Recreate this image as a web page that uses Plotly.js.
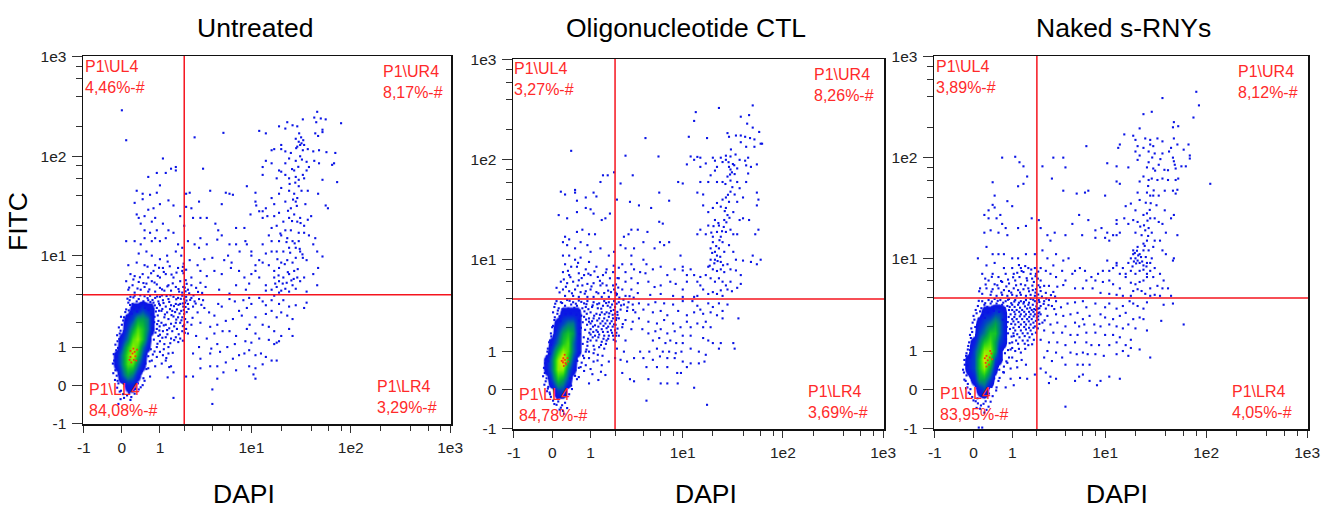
<!DOCTYPE html>
<html><head><meta charset="utf-8">
<script src="https://cdn.plot.ly/plotly-3.0.1.min.js"></script>
<style>html,body{margin:0;padding:0;background:#fff}#c{width:1333px;height:521px}</style>
</head><body><div id="c"></div>
<script>
const panelNames=["Untreated","Oligonucleotide CTL","Naked s-RNYs"];
const quadrantLabels=["P1\\UL4","P1\\UR4","P1\\LL4","P1\\LR4"];
const untreatedPercents=["4,46%-#","8,17%-#","84,08%-#","3,29%-#"];
const oligoPercents=["3,27%-#","8,26%-#","84,78%-#","3,69%-#"];
const nakedPercents=["3,89%-#","8,12%-#","83,95%-#","4,05%-#"];
const gateDapi=2, gateFitc=4;
const majorTicks=[-1,0,1,10,100,1000];
const majorLabels=["-1","0","1","1e1","1e2","1e3"];
const minorTicks=[2,4,6,8,20,40,60,80,200,400,600,800];
const densityDapi=[-.25,-.125,0,.125,.25,.375,.5,.625,.75,.875,1,1.125];
const densityFitc=[-.25,0,.25,.5,.75,1,1.3,1.7,2.2,2.8,3.6];
const untreatedDensity=[
[0,0,0,0,0,0,0,0,0,0,0,0],[0,0,0,1,1,0,0,0,0,0,0,0],[0,0,2,4,3,1,0,0,0,0,0,0],[0,1,3,6,6,3,1,0,0,0,0,0],
[0,1,3,6,8,5,2,0,0,0,0,0],[0,0,2,5,7,6,3,1,0,0,0,0],[0,0,1,3,6,7,5,2,0,0,0,0],[0,0,0,2,4,6,5,3,1,0,0,0],
[0,0,0,1,2,4,4,3,1,0,0,0],[0,0,0,0,1,1,2,1,1,0,0,0],[0,0,0,0,0,0,0,0,0,0,0,0]];
const oligoDensity=[
[0,0,0,0,0,0,0,0,0,0,0,0],[0,0,0,2,2,0,0,0,0,0,0,0],[0,0,2,5,4,2,0,0,0,0,0,0],[0,1,3,7,7,3,1,0,0,0,0,0],
[0,1,3,7,9,5,2,0,0,0,0,0],[0,0,2,5,7,6,3,1,0,0,0,0],[0,0,1,3,5,6,3,1,0,0,0,0],[0,0,0,2,4,5,4,1,0,0,0,0],
[0,0,0,1,2,3,3,1,0,0,0,0],[0,0,0,0,1,1,1,1,0,0,0,0],[0,0,0,0,0,0,0,0,0,0,0,0]];
const nakedDensity=[
[0,0,0,0,0,0,0,0,0,0,0,0],[0,0,0,1,2,0,0,0,0,0,0,0],[0,0,1,4,4,2,0,0,0,0,0,0],[0,1,2,5,7,4,1,0,0,0,0,0],
[0,1,2,5,8,6,2,1,0,0,0,0],[0,0,2,4,7,7,4,1,0,0,0,0],[0,0,1,3,5,6,4,2,1,0,0,0],[0,0,0,2,3,5,5,3,1,0,0,0],
[0,0,0,1,2,3,4,3,1,0,0,0],[0,0,0,0,1,1,2,2,1,0,0,0],[0,0,0,0,0,0,0,0,0,0,0,0]];
const untreatedHot=[[.2,.7],[.25,.8],[.3,.85],[.22,.55],[.28,.62],[.32,.72],[.18,.62],[.36,.92],[.27,.95],[.2,.88],[.34,.6]];
const oligoHot=[[.25,.68],[.3,.75],[.33,.62],[.27,.58],[.36,.8],[.29,.9],[.22,.72],[.31,.66],[.38,.7],[.26,.8]];
const nakedHot=[[.28,.65],[.33,.72],[.38,.8],[.3,.85],[.42,.92],[.26,.78],[.36,.6],[.44,.75],[.3,.55],[.39,1]];
const untreatedFringe=[[.13,3.63],[.27,3.74],[.44,3.93],[.52,3.41],[.63,3.68],[.77,3.52],[.91,3.83],[.19,3.12],[.33,3.05],[.47,3.27],[.58,3.17],[.71,3.36],[.84,3.09],[.97,3.22],[.08,2.62],[.16,2.73],[.28,2.87],[.41,2.96],[.56,2.91],[.66,2.78],[.79,2.84],[.87,2.66],[.97,2.71],[.12,2.38],[.23,2.52],[.36,2.66],[.74,2.47],[.83,2.33],[.93,2.41],[.03,2.12],[.11,2.17],[.82,2.03],[.91,1.93],[.99,1.82],[.77,1.73],[.86,1.54],[.98,1.63],[.81,1.26],[.92,1.11],[.72,.93],[.83,.86],[.65,.72],[.78,.77],[.57,.52],[.69,.58],[.48,.33],[.6,.38],[.52,.16],[.38,.04],[.45,-.05],[-.02,2.33],[-.07,1.77],[-.03,1.62],[-.11,1.43],[-.06,1.28],[-.15,1.08],[-.09,.97],[-.19,.78],[-.12,.71],[-.21,.52],[-.14,.47],[-.2,.28],[-.12,.22],[-.16,.12],[-.08,.04],[-.11,-.06],[-.02,-.13],[.03,-.21],[.12,-.24],[.17,-.18],[.26,-.14],[.31,-.09],[-.03,-.33],
[1.07,3.93],[1.23,3.87],[1.38,3.94],[1.62,3.58],[1.83,3.62],[1.12,3.27],[1.33,3.36],[1.52,3.03],[1.72,3.13],[1.93,3.24],[2.12,3.47],[1.08,2.83],[1.36,2.82],[1.57,2.62],[1.77,2.53],[1.98,2.76],[2.13,2.62],[1.17,2.47],[1.42,2.43],[1.62,2.17],[1.86,2.13],[2.17,2.03],[1.13,1.87],[1.33,1.73],[1.53,1.82],[1.73,1.47],[1.93,1.83],[2.03,1.53],[1.08,1.33],[1.26,1.47],[1.53,1.24],[1.71,1.17],[1.93,1.22],[1.13,.93],[1.37,1.13],[1.22,.67],[1.47,.82],[1.06,.52],[1.33,.43],[1.27,.18],
[.17,4.73],[.37,4.63],[.52,5.27],[.68,4.53],[.83,5.33],[1.07,4.53],[1.26,4.87],[1.47,5.23],[1.72,4.57],[2.03,4.73],[2.08,5.63],[1.96,6.63],[.27,5.73],[.43,6.03],[.73,6.63],[.93,6.23],[1.13,6.83],[1.42,6.43],[1.63,6.73],[1.97,8.3],[1.93,7.7],[.63,7.73],[.97,7.53],[1.27,8.7],
[18.3,9.2],[21.7,8.2],[24.6,10.7],[27.3,13.3],[22.6,13.7],[19.6,16.7],[25.7,22.3],[28.7,31.7],[23.4,28.3],[30.7,11.7],[17.4,5.2],[22.7,5.3],[25.3,5.6],[20.7,5.2],[18.8,6.3],[23.3,6.8],[26.7,5.8],[32.7,10.3],[29.3,7.3],[31.3,21.3],[26.3,36.7],[24.3,52.7],[27.7,54.3],[29.7,78.3],[32.3,92.7],[25.7,74.3],[28.3,120.7],[31.7,155],[30.3,170],[33.3,145],
[2.27,4.13],[2.53,3.93],[2.83,4.27],[3.13,4.17],[2.33,3.53],[2.67,3.23],[3.07,3.13],[2.07,4.33],[2.13,5.17],[2.23,2.83],[2.47,2.27],[2.07,2.97]];
const oligoFringe=[[.07,3.57],[.23,3.63],[.41,3.83],[.57,3.57],[.72,3.73],[.87,3.53],[.13,3.03],[.24,3.13],[.38,3.17],[.53,3.23],[.67,3.03],[.81,2.97],[.93,3.13],[.06,2.57],[.17,2.63],[.31,2.77],[.44,2.83],[.59,2.73],[.72,2.67],[.86,2.43],[.09,2.27],[.19,2.33],[.66,2.37],[.76,2.27],[.89,2.13],[.02,2.07],[.07,1.83],[.71,1.97],[.83,1.87],[.96,1.73],[.68,1.67],[.79,1.53],[.92,1.47],[.76,1.27],[.87,1.07],[.68,.97],[.77,.87],[.61,.72],[.73,.67],[.56,.47],[.65,.53],[.43,.27],[.55,.33],[.37,.06],[.47,.02],[.31,-.13],[-.02,1.57],[-.07,1.33],[-.03,1.23],[-.11,1],[-.06,.93],[-.15,.76],[-.09,.71],[-.19,.53],[-.13,.47],[-.21,.32],[-.13,.27],[-.18,.12],[-.09,.07],[-.12,-.03],[-.03,-.16],[-.06,-.06],[.05,-.33],[.14,-.27],[.17,-.47],[.23,-.36],[.28,-.58],[.12,-.2],[.35,-.43],
[1.07,3.43],[1.23,3.53],[1.38,3.17],[1.58,3.63],[1.77,3.27],[1.93,3.07],[2.08,3.57],[1.12,2.67],[1.33,2.73],[1.52,2.77],[1.72,2.83],[1.88,2.73],[2.12,2.93],[1.05,2.33],[1.23,2.37],[1.43,2.33],[1.63,2.37],[1.83,2.33],[2.03,2.13],[1.08,2.03],[1.27,2.03],[1.47,2.07],[1.67,2.03],[1.88,2.03],[2.13,1.93],[1.09,1.77],[1.25,1.77],[1.45,1.77],[1.65,1.77],[1.85,1.73],[2.07,1.73],[1.07,1.53],[1.27,1.53],[1.47,1.47],[1.67,1.47],[1.93,1.43],[2.03,1.37],[1.13,1.07],[1.37,1.23],[1.57,1.27],[1.24,.73],[1.43,.87],[1.06,.37],[1.37,.43],[1.27,.23],
[.17,4.67],[.32,5.33],[.47,4.57],[.62,5.47],[.82,4.53],[1.03,5.37],[1.27,4.57],[1.43,5.77],[1.67,4.87],[2.03,4.63],[2.05,5.63],[2.13,6.53],[.27,6.33],[.43,6.67],[.73,6.53],[.93,7.23],[1.13,7.63],[1.33,6.13],[1.57,7.43],[1.93,8.7],[.37,7.73],[.63,9.3],
[18.6,8.7],[20.7,9.2],[22.3,9.7],[23.7,10.7],[25.3,8.8],[19.7,11.7],[21.6,13.7],[23.3,15.7],[24.7,19.3],[22.7,23.3],[20.3,21.7],[19.3,18.7],[25.7,21.3],[27.3,23.7],[29.3,26.3],[26.3,30.7],[28.3,44.7],[31.3,53.3],[26.7,57.3],[29.7,71.3],[32.7,88.3],[28.7,94.7],[30.3,127],[33.7,113],[31.7,90.7],
[2.23,4.13],[2.47,3.93],[2.87,4.27],[3.17,4.13],[2.33,3.43],[2.73,3.27],[3.13,3.07],[2.07,4.37],[2.17,5.23],[2.13,2.73],[2.43,2.17],[2.07,2.53]];
const nakedFringe=[[.12,3.73],[.27,3.53],[.43,3.67],[.58,3.73],[.73,3.57],[.87,3.83],[.97,3.53],[.18,3.13],[.32,3.23],[.47,3.07],[.62,3.17],[.77,3.13],[.92,3.23],[.07,2.77],[.21,2.63],[.33,2.83],[.48,2.93],[.62,2.87],[.78,2.77],[.89,2.53],[.02,2.37],[.12,2.43],[.26,2.47],[.72,2.37],[.86,2.23],[.97,2.13],[.04,1.97],[.09,2.07],[.83,1.97],[.93,1.87],[.87,1.67],[.98,1.53],[.81,1.43],[.92,1.27],[.87,1.03],[.78,.93],[.68,.73],[.82,.69],[.62,.47],[.73,.41],[.49,.26],[.63,.27],[.42,.06],[.36,-.09],[.28,-.27],[.54,-.02],[-.03,1.73],[-.06,1.47],[-.04,1.33],[-.12,1.17],[-.08,1.03],[-.16,.93],[-.1,.79],[-.21,.73],[-.14,.57],[-.24,.47],[-.16,.33],[-.21,.23],[-.13,.13],[-.17,.03],[-.07,.01],[-.11,-.07],[-.03,-.17],[.05,-.27],[.09,-.2],[.17,-.37],[.23,-.33],[.3,-.48],[.07,-.43],
[1.07,3.67],[1.23,3.57],[1.42,3.63],[1.63,3.57],[1.82,3.83],[1.97,3.27],[2.13,3.63],[1.08,3.23],[1.27,3.17],[1.46,3.27],[1.68,3.17],[1.87,3.07],[2.13,3.13],[1.07,2.87],[1.24,2.87],[1.43,2.87],[1.63,2.87],[1.83,2.87],[2.07,2.77],[1.07,2.53],[1.26,2.57],[1.44,2.57],[1.64,2.53],[1.84,2.57],[2.07,2.37],[1.04,2.27],[1.21,2.23],[1.43,2.23],[1.62,2.27],[1.83,2.2],[2.13,2.13],[1.04,1.93],[1.23,1.97],[1.43,1.97],[1.63,1.93],[1.83,1.93],[1.04,1.67],[1.17,1.63],[1.37,1.67],[1.57,1.67],[1.77,1.63],[1.13,1.37],[1.37,1.37],[1.57,1.37],[1.77,1.23],[1.23,1.07],[1.47,1.07],[1.17,.53],[1.33,.73],[1.27,.27],
[.13,4.67],[.28,5.47],[.42,4.63],[.57,5.37],[.68,4.53],[.82,5.23],[.97,4.53],[1.13,5.37],[1.27,4.53],[1.47,5.37],[1.63,4.67],[1.78,5.33],[1.93,4.53],[2.08,5.37],[2.05,6.27],[.27,6.27],[.43,6.53],[.67,5.93],[.87,6.13],[1.03,6.47],[1.17,7.17],[1.33,7.47],[1.53,6.33],[1.77,6.27],[2.07,7.37],[1.23,8.57],[1.47,8.37],[1.73,7.73],[1.93,6.63],
[18.7,8.3],[19.3,9.3],[20.3,8.9],[21.3,10.7],[19.7,11.3],[20.7,11.9],[22.7,10.3],[23.3,9.3],[25.3,10.3],[25.7,8.3],[24.7,13.3],[26.7,16.7],[22.3,20.7],[24.3,21.3],[26.3,23.7],[27.7,30.3],[25.3,35.7],[28.3,35.3],[30.3,47.3],[26.7,52.3],[32.3,33.7],[31.3,74.3],[29.3,100.3],[35.3,96.7],[38.7,75.7],
[2.27,4.13],[2.53,3.93],[2.83,4.27],[3.13,4.13],[2.37,3.47],[2.67,3.37],[3.07,3.07],[2.07,4.33],[2.17,5.13],[2.13,2.83],[2.43,2.33],[2.07,2.57]];
const untreatedEvents=[[0,290],[.1,145],[1.1,95],[2.6,155],[5.2,172],[3.2,75],[1.6,78],[1.6,72],[.65,62],[.9,68],[1.2,68],[1.4,75],[46,280],[33,235],[23,220],[50,240],[56,235],[43,245],[80,215],[45,220],[19,200],[22,190],[26,205],[29,200],[52,175],[52,185],[44,170],[47,160],[12,180],[14,170],[28,150],[30,140],[31,130],[32,135],[34,130],[29,125],[20,130],[16,115],[17,118],[20,118],[22,112],[25,108],[33,115],[37,118],[42,112],[48,115],[57,110],[70,108],[68,85],[65,82],[48,85],[43,90],[36,88],[31,100],[28,90],[24,95],[22,85],[20,70],[19,72],[16,85],[14,90],[13,78],[13,65],[18,60],[22,65],[24,60],[27,72],[28,62],[30,58],[33,65],[36,72],[38,78],[34,60],[30,50],[27,42],[24,45],[20,48],[19,42],[22,35],[25,30],[28,35],[29,38],[32,45],[35,33],[37,45],[47,42],[52,58],[56,32],[59,30],[73,55],[16,38],[17,33],[14,30],[12,28],[11,35],[13,24],[14.5,25],[17,25],[19,27],[21,22],[24,24],[27,26],[29,22],[31,24],[34,20],[37,23],[40,25],[34,17],[38,16],[44,15],[30,17],[25,18],[22,18],[20,16],[18,20],[16,19],[15,16],[19,14],[23,15],[26,14],[28,12],[24,12],[21,11],[18,11],[16,11],[14,10.5],[13,13],[16,14],[30,14],[31,11],[33,9.5],[36,9],[42,13],[46,11],[52,9.8],[28,9.5],[26,8.5],[23,9],[20,8.5],[19,7.5],[17,7],[15,8],[13,8.5],[12,9],[11,7],[12,6],[14,5],[17,6],[19,5.5],[21,6],[24,6.5],[27,7],[29,6],[31,5.5],[34,6],[42,6.5],[47,7.5],[46,5],[14,4.4],[16,4.5],[18,4.8],[20,4.4],[22,4.6],[24,4.3],[19,4.2],[26,5],[28,4.6],[36,4.3],
[2.1,42],[2.3,43],[2.9,35],[3.8,45],[2.4,30],[2.1,31],[2,20],[2.5,24],[3,24],[3.5,24],[4.3,21],[4.6,18],[5.5,43],[6,42],[6.5,41],[5,33],[7,19],[8.5,19],[9,50],[11,43],[9.8,26],[11.2,32],[13,28],[4.5,14.5],[5,16],[6,13],[7,13],[3,15],[3.5,13],[2.2,14],[2.6,13],[2.9,12],[8.7,14],[9,13],[10,11],[10,10],[7.6,11],[5.8,10],[6.3,8.5],[5.3,9],[4,9.5],[3.3,9.2],[2.8,8],[2.3,9],[2.1,7.2],[2.4,6],[3,7],[3.5,6.2],[4.2,7],[5,6.5],[6.2,7.5],[7.5,7],[8.5,6],[10,6.5],[11,8],[7,5],[8.8,4.5],[3,5.3],[2.4,5],[2.2,4.5],[2.7,4.7],[3.4,4.8],[4.7,4.5],[6,4.1],[9.5,5.2],
[.35,45],[.5,42],[.7,41],[.9,43],[1,51],[.3,34],[.5,37],[.65,29],[.8,30],[1,33],[1.3,36],[1.5,32],[1.8,25],[.35,26],[.4,24],[.55,25],[.75,22],[.85,24],[1.1,21],[1.3,18],[.45,21],[.55,18],[.7,17],[.9,18],[.1,14],[.3,14],[.45,13],[.55,15],[.75,14],[.85,15],[1,14],[1.2,15],[1.5,17],[1.7,13],[1.9,12],[1.85,10],[1.6,11],[.4,10.5],[.6,11],[.75,10],[1,9.2],[1.25,10],[.15,8],[.35,8.5],[.55,8],[.85,8],[1.1,7.5],[1.35,7.8],[1.7,7.5],[1.9,7],[.2,6.5],[.3,6.2],[.5,6.5],[.65,6],[.8,7],[1,6],[1.2,6.5],[1.5,6],[1.8,5.5],[.1,5.5],[.25,5],[.4,5.4],[.6,5.2],[.75,5.5],[.9,5.1],[1,4.7],[1.3,5],[1.6,4.8],[1.95,4.8],[.15,4.5],[.45,4.5],[.55,4.8],[.65,4.3],[.85,4.3],[1.15,4.4],[1.4,4.4],[1.75,4.3],[1.9,4.2],[.3,4.2],
[2.1,3.8],[2.4,3.7],[2.6,3.4],[2.9,3.6],[3.2,3.5],[2.2,3.2],[2.5,3],[2.8,2.6],[3.3,2.9],[3.7,2.6],[4.2,2.4],[4.6,3.2],[5,3],[6,3.6],[6.8,3.4],[7.5,2.7],[8.3,3.5],[9.5,3.7],[9,2.9],[10,3.2],[12,3.7],[13,3.4],[14,3.1],[16,3.5],[17,3.9],[19,3.2],[21,3.5],[24,3],[28,3.1],[36,3.3],[34,2.9],[14,2.5],[16,2.7],[18,2.3],[20,2.6],[23,2.4],[26,2.2],[11,2.3],[8,2.4],[6.5,2.2],[5.5,2.1],[4.5,1.9],[3.8,1.8],[3,2],[2.4,1.9],[2.2,1.5],[2.7,1.4],[3.5,1.3],[4.2,1.5],[5.1,1.6],[6,1.6],[7,1.4],[9,1.7],[9.6,1.9],[11,1.5],[13,1.9],[15,1.8],[17,1.6],[20,1.4],[24,1.7],[26,1.4],[19,1.2],[17,1.1],[18,1.15],[15,1.25],[12,1.3],[10,1.15],[8.7,1.2],[6.8,1.1],[5.7,1],[4.5,1.1],[3.9,.95],[2.9,1],[2.5,.8],[3,.65],[3.8,.8],[4.8,.85],[5.5,.55],[6.5,.65],[7.5,.75],[8.5,.8],[9.5,.9],[11,.75],[12.5,.8],[14,.7],[16,.6],[18,.6],[13,.5],[11,.4],[9.5,.45],[7,.35],[5.2,.3],[4.5,.45],[3.8,.45],[3,.4],[2.5,.2],[4.5,.15],[10.5,.25],[11,.15],[4,-.1],[4,-.45],[1.5,-.3],[1.5,.3],[2.1,.2],
[1,3.8],[1.1,3.5],[1.3,3.6],[1.5,3.8],[1.7,3.7],[1.9,3.9],[2,3.6],[2.05,3.3],[1.95,3],[1.8,3.2],[1.6,3.2],[1.4,3.1],[1.2,3],[1,3.1],[1.05,2.7],[1.25,2.6],[1.45,2.7],[1.65,2.8],[1.85,2.7],[2,2.5],[2.05,2.2],[1.9,2.3],[1.7,2.3],[1.5,2.35],[1.3,2.2],[1.15,2.3],[1.05,2],[1.2,1.9],[1.4,1.95],[1.6,2],[1.8,2],[2,1.9],[2.1,1.7],[1.9,1.6],[1.65,1.7],[1.45,1.6],[1.25,1.65],[1.1,1.6],[1,1.45],[1.2,1.35],[1.4,1.3],[1.6,1.35],[1.8,1.3],[1,1.2],[1.15,1.1],[1.3,1],[.9,1],[1,.85],[1.1,.75],[.9,.7],[.75,.6],[.85,.45],[.65,.4],[.7,.2],[.55,.1],[.5,0],[.4,-.1],[1.2,.6],[1.4,.45],[1.3,.8],
[.2,3.8],[.3,3.9],[.4,3.6],[.55,3.85],[.7,3.9],[.85,3.7],[.95,3.4],[.15,3.3],[.25,3.2],[.35,3.4],[.9,2.9],[.8,3.3],[.1,2.8],[.05,2.3],[0,1.9],[-.05,1.5],[-.1,1.2],[-.13,.9],[-.18,.6],[-.15,.35],[-.1,.1],[-.05,-.15],[.05,-.3],[.2,-.35],[.3,-.2],[-.08,-.45],[.22,-.28],[.95,2.1],[.9,1.7],[.95,1.4],[.18,3.5],[.65,3.5]];
const oligoEvents=[[50,350],[23,330],[13.5,300],[13,245],[38,270],[46,280],[44,230],[50,210],[58,190],[28,185],[29,170],[34,175],[38,175],[42,170],[47,165],[52,160],[60,145],[62,145],[52,135],[43,135],[38,150],[17.5,165],[11.5,170],[4.2,165],[2.6,110],[5.7,108],[12,108],[14,107],[15,105],[13,100],[17,92],[11,90],[15,85],[20,105],[21,98],[24,105],[27,110],[30,108],[27,100],[25,95],[22,85],[29,85],[30,80],[31,75],[33,72],[35,82],[37,100],[42,98],[45,105],[55,90],[48,85],[43,88],[45,73],[21,78],[19,70],[18,60],[22,60],[25,60],[15,60],[9,60],[10,58],[28,68],[30,62],[35,60],[37,52],[43,60],[30,48],[27,42],[25,40],[22,37],[20,33],[16,45],[14,47],[16,35],[18,30],[24,34],[27,33],[29,38],[33,45],[35,38],[40,42],[55,47],[57,40],[55,35],[37,25],[32,30],[28,28],[26,25],[23,22],[21,25],[18,22],[15,20],[14,18],[17,18],[20,17],[22,19],[24,17],[27,19],[30,20],[32,18],[35,18],[40,26],[46,25],[53,18],[57,20],[25,15],[23,13],[20,15],[19,13],[21,12],[21,10],[19,10],[22,11],[24,9.5],[26,12],[29,14],[32,12],[34,10],[40,9.8],[50,11],[60,10],[55,9],[48,9.5],[18,8.5],[20,8],[22,7.7],[24,8],[26,7.5],[28,9],[30,8],[34,7.8],[17,7],[19,6.5],[21,6],[23,6.5],[25,6],[27,5.5],[30,6],[38,7],[38,5.7],[35,5.2],[31,4.8],[28,5],[24,4.9],[22,4.5],[20,4.7],[18,4.5],[25,4.3],[13,4.2],[14,4.3],[16,5],[12,8],[10,7.8],[13,7],[15,6.7],[11,6],[15,5.5],[14,6],
[2.3,58],[3.1,70],[2.1,40],[2.9,38],[3.6,35],[5.8,47],[4.8,33],[7.3,39],[5.8,24],[6.3,23],[4.4,19],[3.5,20],[3,20],[2.8,18],[2.5,17],[2.3,14],[2.6,13],[3,11],[3.2,13],[4,15],[5.2,13],[5.9,15],[6.5,14],[7.3,15],[9.5,11],[4,10],[4.3,9],[3,9],[2.4,9],[2.2,8.3],[2.6,7.5],[3.2,8],[3.7,7.5],[4.2,7.3],[5,8],[6,8.5],[7,7],[8.3,8],[10,8.5],[11,7],[2.2,6.5],[2.6,6],[3,6.5],[3.5,5.8],[4.5,6],[5.2,5.3],[6,5.5],[7.5,6],[8.5,5.7],[10,5],[2.4,5],[3,5],[3.5,4.6],[4.7,4.4],[6,4.5],[8,4.3],[10,4.2],[2.1,4.5],[2.6,4.3],
[.45,123],[.55,47],[.3,45],[.55,50],[.6,39],[.85,42],[1.1,47],[1.2,43],[1.35,60],[1.65,70],[1.95,75],[1.45,70],[.2,48],[.15,28],[.35,26],[.6,30],[.85,33],[1,32],[1.1,29],[1.4,25],[1.55,26],[1.75,29],[.3,17],[.4,16],[.6,19],[.75,20],[.95,18],[1.15,18],[.25,15],[.35,14],[.55,13],[.7,15],[.9,14],[1,12],[1.35,13],[1.7,11],[1.95,12],[.25,11],[.4,11],[.55,10],[.7,10.5],[.95,9.5],[.3,9],[.45,8.5],[.6,8.5],[.85,8],[1.2,8.5],[1.6,8],[1.9,7.5],[.25,7.5],[.4,7],[.65,7.3],[.8,7],[1,7],[1.25,6.7],[1.45,7],[1.75,6.5],[.2,6],[.35,5.8],[.5,6],[.65,6.2],[.75,5.5],[.9,5.7],[1.1,5.8],[1.35,5.5],[1.6,5.5],[1.9,5.5],[.1,5.2],[.25,5],[.4,4.8],[.55,5],[.7,4.7],[.85,4.8],[1,5],[1.2,4.7],[1.5,4.6],[1.8,4.7],[1.95,5],[.3,4.3],[.5,4.3],[.65,4.2],[.9,4.2],[1.1,4.2],[1.4,4.2],[1.7,4.2],
[2.2,3.7],[2.5,3.5],[2.8,3.7],[3.1,3.5],[3.6,3.6],[4.5,3.5],[5.3,3.7],[6.5,3.6],[8,3.5],[10,3.8],[12.5,3.8],[14,3.4],[15,3.1],[18,3.6],[20,3.3],[23,3.6],[25,3],[28,3.5],[2.3,3.1],[2.7,3],[3.3,2.9],[4,3.1],[5,2.9],[6,3],[7,2.7],[9,3],[11,2.7],[13,2.9],[16,2.8],[19,2.9],[22,2.7],[25,2.5],[36,2.5],[2.2,2.5],[2.6,2.4],[3.1,2.3],[3.6,2.5],[4.5,2.3],[5.5,2.2],[6.5,2.4],[8,2.2],[9.5,2],[11,2.3],[12,2],[14,2.2],[16,2],[17,2.3],[19,2],[2.4,2],[3,1.9],[3.9,1.9],[4.5,1.7],[5.3,1.8],[6,1.9],[7,1.7],[8.3,1.8],[10,1.6],[12,1.6],[16,1.5],[18,1.4],[20,1.3],[24,1.3],[32,1.3],[33,1.1],[23,1.1],[2.2,1.6],[2.6,1.4],[5,1.4],[5.8,1.5],[6.7,1.3],[7.5,1.4],[8.6,1.3],[10,1.3],[12,1.1],[14.5,1],[17,.9],[2.1,1.1],[2.5,1],[3.7,1],[4.6,1],[5.5,1.1],[6.3,1],[7.3,1],[8.5,.95],[9.7,1],[3.2,.8],[4,.8],[5,.75],[5.9,.85],[7,.8],[8.3,.8],[10,.7],[12,.65],[14.5,.65],[16.5,.7],[2,.8],[2.3,.75],[2.7,.7],[4.3,.55],[5.5,.55],[7,.55],[8.8,.4],[9.6,.4],[11,.55],[2.4,.4],[2.9,.25],[3.2,.2],[4.5,.25],[6,.15],[7,.15],[8.9,.15],[13,.05],[4.3,-.25],[17.5,-.35],
[.9,3.8],[1.1,3.7],[1.3,3.6],[1.5,3.8],[1.7,3.7],[1.95,3.8],[1.05,3.3],[1.25,3.2],[1.45,3.4],[1.65,3.4],[1.85,3.5],[2,3.3],[1,2.9],[1.2,2.8],[1.4,2.9],[1.6,2.9],[1.8,3],[2,2.8],[.95,2.5],[1.1,2.5],[1.3,2.5],[1.5,2.5],[1.7,2.6],[1.9,2.5],[2.05,2.4],[1,2.2],[1.15,2.1],[1.35,2.2],[1.55,2.2],[1.75,2.2],[1.95,2.15],[1,1.9],[1.2,1.85],[1.4,1.9],[1.6,1.95],[1.8,1.85],[2,1.85],[2.05,1.6],[1,1.65],[1.15,1.6],[1.3,1.65],[1.5,1.6],[1.7,1.6],[1.9,1.6],[1,1.4],[1.2,1.4],[1.4,1.35],[1.6,1.4],[.9,1.2],[1.1,1.2],[1.3,1.15],[1.5,1.1],[.95,1],[1.1,.95],[1.25,.9],[.95,.8],[1.1,.7],[.85,.6],[1,.5],[.8,.45],[.65,.3],[.95,.15],[1.4,.6],[1.7,.7],[1.55,.35],
[.1,3.8],[.2,3.7],[.35,3.9],[.5,3.7],[.65,3.85],[.8,3.6],[.05,3.3],[.15,3.2],[.3,3.4],[.45,3.5],[.6,3.4],[.75,3.2],[.85,3.3],[.02,2.9],[.12,2.8],[.88,2.8],[.8,2.6],[.95,2.3],[.05,2.4],[0,2],[-.03,1.7],[-.05,1.4],[-.1,1.1],[-.12,.85],[-.16,.65],[-.17,.4],[-.15,.2],[-.1,.03],[-.05,-.1],[.02,-.25],[.1,-.35],[.2,-.42],[.25,-.5],[.3,-.3],[.4,-.1],[.45,.1],[.6,.25],[.7,.55],[.8,.8],[.85,1],[.9,1.35]];
const nakedEvents=[[80,450],[85,330],[37,390],[29,285],[24,270],[75,250],[48,225],[53,205],[47,200],[22,195],[15.5,170],[19,165],[20,150],[25,155],[28,150],[33,155],[48,155],[37,145],[30,130],[28,135],[24,125],[21,130],[14,135],[13.5,125],[20,115],[22,105],[27,115],[31,110],[37,110],[43,115],[45,125],[52,135],[67,135],[60,120],[69,105],[69,98],[47,100],[48,92],[49,85],[50,78],[42,75],[37,62],[42,60],[50,60],[53,62],[63,82],[17,80],[21,95],[27,90],[26,80],[30,78],[34,85],[24,65],[22,58],[27,60],[29,62],[33,60],[39,47],[47,47],[50,44],[52,48],[57,82],[110,55],[10.5,88],[13,82],[13,58],[14,55],[6.5,130],[3,100],[3.8,100],[4,80],[2.3,82],[2.9,62],[3.8,47],[.7,100],[1.1,102],[1.25,90],[1.4,82],[1.55,65],[1.4,55],[1.2,52],[.45,57],
[21,45],[26,45],[28,42],[30,42],[34,42],[39,30],[22,38],[20,30],[18,35],[16,33],[15.5,25],[13,22],[17,22],[19,24],[21,23],[24,27],[26,28],[28,25],[31,25],[34,23],[37,22],[45,25],[48,27],[40,18],[52,17],[14,18],[12,17],[10.5,18],[20,18],[23,17],[25,19],[27,20],[29,18],[31,15],[35,15],[24,14],[26,15],[21,13],[19,12],[22,11],[24,12],[27,12],[30,13],[37,12],[40,11],[48,10],[47,9.5],[19,11],[18,10],[20,10],[21,9.5],[22,9],[24,8.5],[26,9],[28,9],[29,10],[31,8],[17,9],[15,8],[13,9],[11,7.5],[14,7],[16,7],[18,7.5],[20,7],[22,7.5],[24,7.7],[26,7],[28,7.5],[30,6.5],[35,7],[38,6],[16,6.5],[18,5.7],[20,5.5],[22,5.8],[24,6],[26,6.5],[28,5],[33,5.3],[37,5],[42,5],[14,5],[12,5.5],[19,4.7],[21,4.9],[23,4.7],[25,4.4],[28,4.2],[31,4.3],[35,4.2],[45,4.2],[18,4.2],[15,4.2],
[2.1,24],[2.2,20],[2.6,17],[3.1,18],[2.8,15],[4,17],[4.7,22],[5.2,44],[6.3,45],[6.8,47],[5.5,27],[6.8,24],[5.9,17],[8,19],[8,16],[9.2,20],[10,16],[11,15],[13,17],[13,24],[10,42],[3.2,11],[3.8,9.5],[2.3,12],[2.6,10],[3,8.5],[3.7,7.5],[4.3,10],[5,7.5],[5.6,8],[6.3,7.5],[7.3,6.5],[8.5,7],[9.5,7.5],[10.5,9.5],[12,8],[13,8.5],[2.2,8],[2.5,7.5],[2.8,7],[3.2,6.5],[4,6],[4.7,7],[6.5,6],[8,6],[9.5,5.8],[11,6],[2.2,6],[2.4,5.3],[2.7,5.3],[3.3,5.2],[3.8,5.4],[5,5],[6,5],[7.5,5],[9,4.5],[2.2,4.7],[2.5,4.5],[3,4.6],[11,4.4],[13,4.3],
[.5,42],[.45,34],[.5,32],[.65,27],[.85,37],[1,33],[.35,30],[.25,27],[.35,25],[.55,25],[.7,22],[.8,20],[.4,19],[.6,18],[.85,17],[1.2,20],[1.5,21],[1.75,25],[.25,18],[.1,10],[.3,13],[.45,11],[.6,11],[.75,11],[1,10],[1.2,10],[1.5,11],[1.9,11],[.3,8.5],[.5,9],[.75,8],[1,8],[1.3,8],[1.6,8],[1.9,8],[.2,7],[.45,7],[.6,6.5],[.8,7],[1.05,7],[1.25,6.5],[1.4,7.3],[1.7,7],[1.95,7],[.35,6],[.5,5.5],[.7,5.8],[.9,5.6],[1.1,6],[1.3,5.5],[1.55,6],[1.85,5.8],[.15,5],[.3,5],[.45,4.9],[.6,5],[.75,4.8],[.9,4.7],[1.05,5],[1.2,4.8],[1.4,4.9],[1.6,5],[1.8,4.8],[1.95,4.9],[.2,4.4],[.4,4.3],[.55,4.2],[.7,4.3],[.85,4.2],[1,4.3],[1.15,4.2],[1.3,4.3],[1.5,4.2],[1.7,4.3],[1.9,4.2],
[2.1,3.8],[2.4,3.7],[2.7,3.8],[3.2,3.7],[2.2,3.3],[2.5,3.1],[2.9,3.3],[3.6,3.2],[4.2,3.5],[5,3.6],[6,3.7],[6.5,3.2],[8,3.5],[10,3.2],[11,3.5],[13,3.1],[15,3.3],[17.5,3.7],[19,3.5],[21,3.3],[24,3.1],[26,3.6],[38,3.4],[47,3.5],[60,2.1],[2.2,2.7],[2.6,2.6],[3.2,2.7],[3.8,2.6],[4.5,2.7],[5.3,2.8],[6,2.4],[7,2.6],[9,2.7],[10,2.5],[12,2.4],[14,2.6],[16,2.8],[19,2.4],[22,2.5],[24,2.4],[36,2.3],[2.3,2.2],[2.8,2.1],[3.3,2.2],[4,2],[5,2.2],[5.5,2],[6.2,2.1],[7.8,2.1],[9,2],[11,2.1],[13,2],[15,1.9],[17,2.1],[20,1.9],[26,1.8],[2.4,1.8],[3,1.7],[3.7,1.7],[4.5,1.6],[5.3,1.6],[6.5,1.7],[8,1.7],[10,1.6],[12,1.6],[14,1.5],[18,1.4],[2.2,1.4],[2.7,1.3],[3.3,1.3],[4,1.2],[5,1.3],[6.5,1.3],[7.3,1.2],[8.7,1.2],[11,1.2],[13,1.3],[16,1.2],[18,1.1],[22,1.05],[2.6,1],[3.2,.95],[3.7,.8],[4.5,.95],[5.2,.9],[6,.95],[6.7,.9],[8,.9],[9.7,.85],[13,.9],[15,1],[17,.85],[2.4,.8],[2.9,.7],[4,.6],[5.3,.6],[6,.6],[7,.6],[28,.8],[2.2,.5],[2.5,.4],[2.8,.3],[3.2,.25],[5.5,.3],[6,.35],[7,.2],[9,.2],[11,.3],[14,.25],[8.3,.1],[5,.2],[4,-.4],[2.7,.15],
[.9,3.9],[1.1,3.8],[1.3,3.7],[1.5,3.8],[1.7,3.9],[1.9,3.7],[2,3.5],[1,3.4],[1.2,3.4],[1.4,3.5],[1.6,3.4],[1.8,3.4],[2.05,3.1],[1,3],[1.15,3],[1.35,3],[1.55,3.1],[1.75,3],[1.95,3],[1.1,2.7],[1.3,2.7],[1.5,2.7],[1.7,2.7],[1.9,2.7],[2,2.5],[1.15,2.4],[1.35,2.4],[1.55,2.4],[1.75,2.4],[1.95,2.3],[1.1,2.1],[1.3,2.1],[1.5,2.1],[1.7,2.1],[1.9,2],[2.05,1.9],[1.1,1.8],[1.3,1.8],[1.5,1.85],[1.7,1.8],[1.95,1.7],[1.05,1.55],[1.25,1.5],[1.45,1.55],[1.65,1.5],[1.85,1.4],[1,1.3],[1.2,1.25],[1.45,1.25],[1.6,1.2],[.95,1.05],[1.1,1],[1.3,.95],[1,.8],[1.15,.7],[.85,.65],[.95,.5],[.75,.4],[.6,.2],[.8,.05],[.95,.25],[1.05,.1],[1.5,.6],[1.55,.25],[1.9,.35],
[.2,3.7],[.35,3.8],[.5,3.9],[.65,3.8],[.8,3.7],[.1,3.3],[.25,3.4],[.4,3.5],[.55,3.5],[.7,3.4],[.85,3.3],[.05,3],[.15,2.9],[.9,3],[.95,2.7],[1,2.4],[0,2.6],[-.02,2.2],[-.05,1.9],[-.08,1.6],[-.1,1.3],[-.13,1.05],[-.17,.85],[-.2,.6],[-.22,.4],[-.18,.2],[-.14,.05],[-.08,-.1],[0,-.25],[.1,-.32],[.15,-.45],[.25,-.55],[.35,-.4],[.45,-.15],[.55,.05],[.4,-.28],[.12,-.98],[.2,-.98],[.75,.55],[.9,.8],[1,1.1]];

const W=1333,H=521,FONT="'Liberation Sans',Arial,sans-serif",RED="#f5141e";
const scale=v=>Math.asinh(v);
const colX=(rows,i)=>rows.map(r=>scale(r[i]));
const densityColors=[[0,"rgba(10,20,230,0)"],[.025,"rgba(10,20,230,0)"],[.05,"rgb(10,20,230)"],[.12,"rgb(10,30,225)"],[.22,"rgb(0,65,200)"],[.33,"rgb(0,120,140)"],[.44,"rgb(0,160,80)"],[.55,"rgb(20,195,40)"],[.66,"rgb(70,225,10)"],[.77,"rgb(140,240,0)"],[.88,"rgb(220,230,0)"],[1,"rgb(255,120,0)"]];
// frame rectangles in page pixels [left,right,top,bottom]
const frames=[[83,451,56,424],[513,884,59,429],[934,1308,56,429]];
const panels=[
 {ev:untreatedEvents.concat(untreatedFringe),den:untreatedDensity,hot:untreatedHot,pc:untreatedPercents,lab:[[84,57],[382,62],[88,380],[376,377]],t:255,d:244},
 {ev:oligoEvents.concat(oligoFringe),den:oligoDensity,hot:oligoHot,pc:oligoPercents,lab:[[513,59],[813,65],[518,385],[807,382]],t:686,d:706},
 {ev:nakedEvents.concat(nakedFringe),den:nakedDensity,hot:nakedHot,pc:nakedPercents,lab:[[935,57],[1237,62],[939,384],[1231,382]],t:1123,d:1117}];
const lo=-.9,hi=7.62;
const traces=[],annotations=[],layout={width:W,height:H,margin:{l:0,r:0,t:0,b:0},paper_bgcolor:"#fff",plot_bgcolor:"#fff",showlegend:false,hovermode:false,font:{family:FONT,color:"#222",size:15}};
panels.forEach((p,i)=>{
 const s=i?String(i+1):"",[l,r,t,b]=frames[i],xa="x"+s,ya="y"+s;
 traces.push({type:"heatmap",x:densityDapi.map(scale),y:densityFitc.map(scale),z:p.den,zmin:0,zmax:9,zsmooth:"best",colorscale:densityColors,showscale:false,hoverinfo:"skip",xaxis:xa,yaxis:ya});
 traces.push({type:"scatter",mode:"markers",x:colX(p.ev,0),y:colX(p.ev,1),marker:{symbol:"square",size:2.1,color:"#0a14e6",line:{width:0}},xaxis:xa,yaxis:ya});
 traces.push({type:"scatter",mode:"markers",x:colX(p.hot,0),y:colX(p.hot,1),marker:{symbol:"square",size:1.8,color:"#f03a10",line:{width:0}},xaxis:xa,yaxis:ya});
 traces.push({type:"scatter",mode:"lines",x:[lo,hi],y:[scale(gateFitc),scale(gateFitc)],line:{color:RED,width:1.5},xaxis:xa,yaxis:ya});
 traces.push({type:"scatter",mode:"lines",x:[scale(gateDapi),scale(gateDapi)],y:[lo,hi],line:{color:RED,width:1.5},xaxis:xa,yaxis:ya});
 const ax={tickmode:"array",tickvals:majorTicks.map(scale),ticktext:majorLabels,ticks:"outside",tickcolor:"#333",tickwidth:1,showgrid:false,zeroline:false,showline:true,mirror:true,linecolor:"#111",linewidth:1.5,tickfont:{size:15.5,color:"#222",family:FONT},range:[lo,hi],fixedrange:true,
   minor:{tickmode:"array",tickvals:minorTicks.map(scale),ticks:"outside",ticklen:5,tickcolor:"#333",tickwidth:1,showgrid:false}};
 layout["xaxis"+s]={...ax,domain:[l/W,r/W],anchor:ya,ticklen:7,ticklabelstandoff:2};
 layout["yaxis"+s]={...ax,domain:[1-b/H,1-t/H],anchor:xa,ticklen:10,minor:{...ax.minor,ticklen:6},ticklabelstandoff:2};
 const txt=(text,x,y,size,extra)=>annotations.push({text,xref:"paper",yref:"paper",x:x/W,y:1-y/H,showarrow:false,font:{family:FONT,size,color:"#000"},...extra});
 txt(panelNames[i],p.t,28,26.5,{xanchor:"center",yanchor:"middle"});
 txt("DAPI",p.d,494,26.5,{xanchor:"center",yanchor:"middle"});
 quadrantLabels.forEach((q,k)=>{
  annotations.push({text:q+"<br>"+p.pc[k],xref:"paper",yref:"paper",x:p.lab[k][0]/W,y:1-p.lab[k][1]/H,xanchor:"left",yanchor:"top",align:"left",showarrow:false,borderpad:0,font:{family:FONT,size:16,color:"#ff2a2a"}});
 });
});
annotations.push({text:"FITC",xref:"paper",yref:"paper",x:18/W,y:1-222/H,textangle:-90,xanchor:"center",yanchor:"middle",showarrow:false,font:{family:FONT,size:26.5,color:"#000"}});
layout.annotations=annotations;
Plotly.newPlot("c",traces,layout,{displayModeBar:false,staticPlot:true});
</script></body></html>
